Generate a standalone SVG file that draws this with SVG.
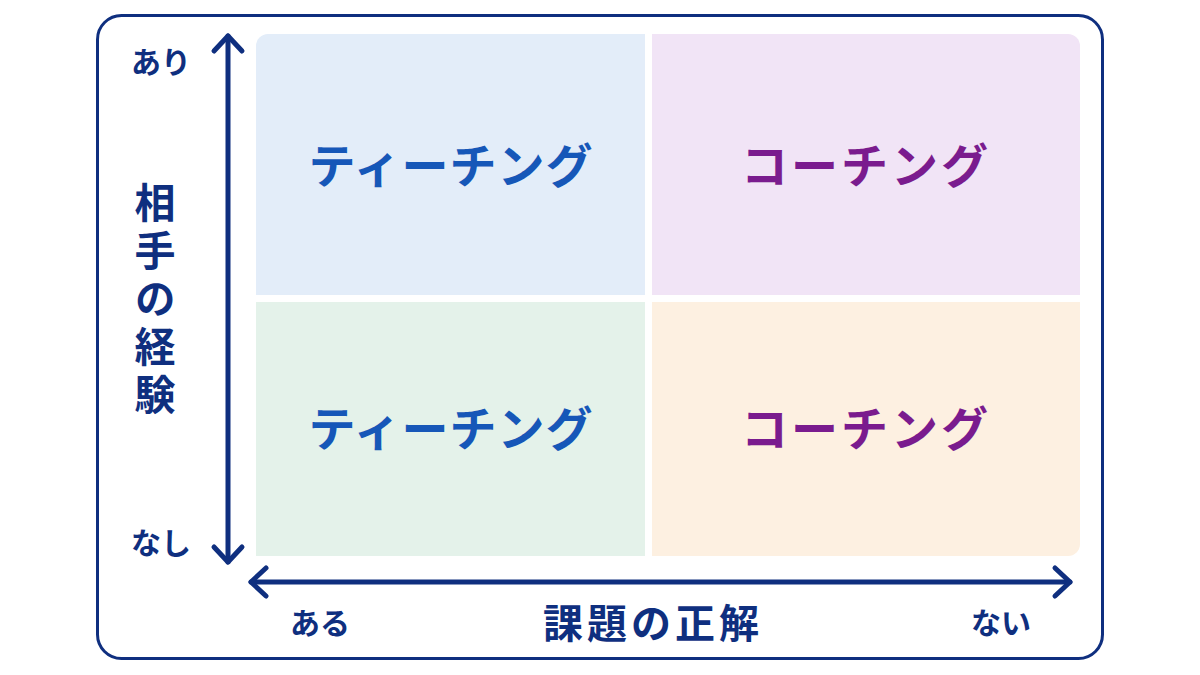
<svg xmlns="http://www.w3.org/2000/svg" width="1200" height="675" viewBox="0 0 1200 675">
<defs>
<style>
.navy{fill:#0f2f7f;font-family:"Noto Sans CJK JP","Noto Sans",sans-serif;font-weight:700}
.lbl{font-size:30px}
.ax{stroke:#0f2f7f;stroke-width:5;fill:none;stroke-linecap:round;stroke-linejoin:round}
.q{font-family:"Noto Sans CJK JP","Noto Sans",sans-serif;font-weight:700;font-size:47px;text-anchor:middle}
.blue{fill:#1657b8}
.purple{fill:#7a1b8e}
</style>
</defs>
<rect width="1200" height="675" fill="#ffffff"/>
<rect id="frame" x="97.5" y="15.5" width="1005" height="643" rx="24" fill="#ffffff" stroke="#0f2f7f" stroke-width="3"/>
<g id="q-tl">
<path d="M268,34 H645 V295 H256 V46 A12,12 0 0 1 268,34 Z" fill="#e3edf9"/>
<text class="q blue" x="451" y="183" letter-spacing="1">ティーチング</text>
</g>
<g id="q-tr">
<path d="M652,34 H1068 A12,12 0 0 1 1080,46 V295 H652 Z" fill="#f1e4f6"/>
<text class="q purple" x="866" y="183" letter-spacing="3">コーチング</text>
</g>
<g id="q-bl">
<path d="M256,302 H645 V556 H256 Z" fill="#e4f2ea"/>
<text class="q blue" x="451" y="446" letter-spacing="1">ティーチング</text>
</g>
<g id="q-br">
<path d="M652,302 H1080 V544 A12,12 0 0 1 1068,556 H652 Z" fill="#fdf0e1"/>
<text class="q purple" x="866" y="446" letter-spacing="3">コーチング</text>
</g>
<g id="connectors">
<line class="ax" x1="228" y1="36" x2="228" y2="562"/>
<polyline class="ax" points="214,51 228,36 242,51"/>
<polyline class="ax" points="214,547 228,562 242,547"/>
<line class="ax" x1="251" y1="582" x2="1070" y2="582"/>
<polyline class="ax" points="266,568 251,582 266,596"/>
<polyline class="ax" points="1055,568 1070,582 1055,596"/>
</g>
<g id="labels">
<text class="navy lbl" x="161" y="73" text-anchor="middle">あり</text>
<text class="navy lbl" x="161" y="554" text-anchor="middle">なし</text>
<text class="navy lbl" x="320" y="634" text-anchor="middle">ある</text>
<text class="navy lbl" x="1001" y="634" text-anchor="middle">ない</text>
<text class="navy" x="653" y="638" font-size="40" text-anchor="middle" letter-spacing="4">課題の正解</text>
<text class="navy" x="155" y="182" font-size="41" writing-mode="vertical-rl" letter-spacing="7">相手の経験</text>
</g>
</svg>
